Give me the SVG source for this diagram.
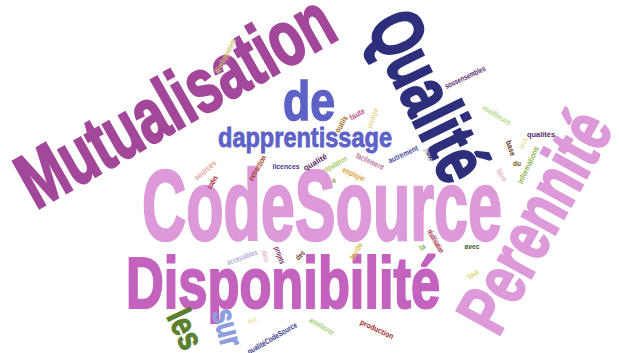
<svg xmlns="http://www.w3.org/2000/svg" width="619" height="353" viewBox="0 0 619 353">
<style>
text{font-family:"Liberation Sans","DejaVu Sans",sans-serif;font-weight:bold;}
.s{font-size:8px;text-anchor:middle;}
</style>
<rect width="619" height="353" fill="#ffffff"/>
<g id="big-words">
<g id="w-mutualisation"><text transform="translate(36,210) rotate(-29.5)" font-size="78" fill="#a3479a" stroke="#a3479a" stroke-width="2.5" textLength="350" lengthAdjust="spacingAndGlyphs">Mutualisation</text></g>
<g id="w-codesource"><text x="142" y="240" font-size="100" fill="#dd99d9" stroke="#dd99d9" stroke-width="2.5" textLength="360" lengthAdjust="spacingAndGlyphs">CodeSource</text></g>
<g id="w-disponibilite"><text x="126" y="308" font-size="72" fill="#c462bf" stroke="#c462bf" stroke-width="2.2" textLength="314" lengthAdjust="spacingAndGlyphs">Disponibilité</text></g>
<g id="w-qualite"><text transform="translate(366,26) rotate(64)" font-size="74" fill="#2e2f7c" stroke="#2e2f7c" stroke-width="2.2" textLength="180" lengthAdjust="spacingAndGlyphs">Qualité</text></g>
<g id="w-perennite"><text transform="translate(498,338) rotate(-61)" font-size="72" fill="#dd99d9" stroke="#dd99d9" stroke-width="2.2" textLength="240" lengthAdjust="spacingAndGlyphs">Perennité</text></g>
<g id="w-de"><text x="283" y="120" font-size="56" fill="#5d62c6" stroke="#5d62c6" stroke-width="1.5" textLength="52" lengthAdjust="spacingAndGlyphs">de</text></g>
<g id="w-dapprentissage"><text x="218" y="147" font-size="28" fill="#5d62c6" stroke="#5d62c6" stroke-width="0.8" textLength="174" lengthAdjust="spacingAndGlyphs">dapprentissage</text></g>
<g id="w-les"><text transform="translate(166,316) rotate(65)" font-size="35" fill="#5a7f2e" stroke="#5a7f2e" stroke-width="1" textLength="40" lengthAdjust="spacingAndGlyphs">les</text></g>
<g id="w-sur"><text transform="translate(212,312) rotate(75)" font-size="33" fill="#8c9fdc" stroke="#8c9fdc" stroke-width="1" textLength="38" lengthAdjust="spacingAndGlyphs">sur</text></g>
</g>
<g id="small-words">
<text class="s" transform="translate(225,56) rotate(-62)" dy="3" fill="#d2c070" textLength="38" lengthAdjust="spacingAndGlyphs">développement</text>
<text class="s" transform="translate(357,114) rotate(-30)" dy="3" fill="#c0508a" textLength="16" lengthAdjust="spacingAndGlyphs">faute</text>
<text class="s" transform="translate(341,124) rotate(-60)" dy="3" fill="#a06a20" textLength="18" lengthAdjust="spacingAndGlyphs">outils</text>
<text class="s" transform="translate(372,118) rotate(-70)" dy="3" fill="#e8d898" textLength="22" lengthAdjust="spacingAndGlyphs">usage</text>
<text class="s" transform="translate(465,77) rotate(-25)" dy="3" fill="#5a2a6a" textLength="44" lengthAdjust="spacingAndGlyphs">sousensembles</text>
<text class="s" transform="translate(497,115) rotate(30)" dy="3" fill="#b8d890" textLength="32" lengthAdjust="spacingAndGlyphs">meilleure</text>
<text class="s" transform="translate(541,134)" dy="3" fill="#5a2a6a" textLength="28" lengthAdjust="spacingAndGlyphs">qualités</text>
<text class="s" transform="translate(511,148) rotate(70)" dy="3" fill="#6a3a2a" textLength="16" lengthAdjust="spacingAndGlyphs">base</text>
<text class="s" transform="translate(517,163)" dy="3" fill="#6a5a20" textLength="8" lengthAdjust="spacingAndGlyphs">du</text>
<text class="s" transform="translate(528,165) rotate(-65)" dy="3" fill="#8ab050" textLength="40" lengthAdjust="spacingAndGlyphs">informations</text>
<text class="s" transform="translate(523,143) rotate(-65)" dy="3" fill="#e8e0a0" textLength="12" lengthAdjust="spacingAndGlyphs">tous</text>
<text class="s" transform="translate(502,175) rotate(60)" dy="3" fill="#e8b8c8" textLength="14" lengthAdjust="spacingAndGlyphs">faire</text>
<text class="s" transform="translate(472,246)" dy="3" fill="#3a5a2a" textLength="15" lengthAdjust="spacingAndGlyphs">avec</text>
<text class="s" transform="translate(473,274) rotate(-30)" dy="3" fill="#e0d070" textLength="12" lengthAdjust="spacingAndGlyphs">tout</text>
<text class="s" transform="translate(436,241) rotate(60)" dy="3" fill="#a02040" textLength="26" lengthAdjust="spacingAndGlyphs">réutilisation</text>
<text class="s" transform="translate(422,247) rotate(-30)" dy="3" fill="#8ab060" textLength="6" lengthAdjust="spacingAndGlyphs">la</text>
<text class="s" transform="translate(242,257) rotate(-20)" dy="3" fill="#b0a8d8" textLength="32" lengthAdjust="spacingAndGlyphs">accessibles</text>
<text class="s" transform="translate(266,256) rotate(75)" dy="3" fill="#e8b8d0" textLength="12" lengthAdjust="spacingAndGlyphs">dans</text>
<text class="s" transform="translate(280,255) rotate(70)" dy="3" fill="#7a2a6a" textLength="18" lengthAdjust="spacingAndGlyphs">projets</text>
<text class="s" transform="translate(300,255) rotate(-45)" dy="3" fill="#6a3a1a" textLength="10" lengthAdjust="spacingAndGlyphs">des</text>
<text class="s" transform="translate(356,251) rotate(-60)" dy="3" fill="#d8c050" textLength="18" lengthAdjust="spacingAndGlyphs">facile</text>
<text class="s" transform="translate(272,338) rotate(-30)" dy="3" fill="#3a3a8a" textLength="56" lengthAdjust="spacingAndGlyphs">qualitéCodeSource</text>
<text class="s" transform="translate(252,320) rotate(-20)" dy="3" fill="#e8e0a0" textLength="9" lengthAdjust="spacingAndGlyphs">est</text>
<text class="s" transform="translate(322,326) rotate(30)" dy="3" fill="#a8d080" textLength="28" lengthAdjust="spacingAndGlyphs">améliorer</text>
<text class="s" transform="translate(377,329) rotate(25)" dy="3" fill="#a03030" textLength="36" lengthAdjust="spacingAndGlyphs">production</text>
<text class="s" transform="translate(205,170) rotate(-40)" dy="3" fill="#e8a090" textLength="26" lengthAdjust="spacingAndGlyphs">sources</text>
<text class="s" transform="translate(212,182) rotate(-60)" dy="3" fill="#a02040" textLength="14" lengthAdjust="spacingAndGlyphs">codes</text>
<text class="s" transform="translate(257,168) rotate(-60)" dy="3" fill="#a03828" textLength="28" lengthAdjust="spacingAndGlyphs">extraction</text>
<text class="s" transform="translate(286,166)" dy="3" fill="#3a3a8a" textLength="27" lengthAdjust="spacingAndGlyphs">licences</text>
<text class="s" transform="translate(315,162) rotate(-30)" dy="3" fill="#5a2a6a" textLength="26" lengthAdjust="spacingAndGlyphs">qualité</text>
<text class="s" transform="translate(335,164) rotate(-30)" dy="3" fill="#a8c860" textLength="26" lengthAdjust="spacingAndGlyphs">réputation</text>
<text class="s" transform="translate(334,180)" dy="3" fill="#a8a060" textLength="4" lengthAdjust="spacingAndGlyphs">à</text>
<text class="s" transform="translate(354,174) rotate(25)" dy="3" fill="#d8a030" textLength="24" lengthAdjust="spacingAndGlyphs">employer</text>
<text class="s" transform="translate(370,161) rotate(25)" dy="3" fill="#c070a0" textLength="30" lengthAdjust="spacingAndGlyphs">facilement</text>
<text class="s" transform="translate(403,154) rotate(-25)" dy="3" fill="#4a4aa0" textLength="32" lengthAdjust="spacingAndGlyphs">autrement</text>
<text class="s" transform="translate(429,155) rotate(70)" dy="3" fill="#c0c0c8" textLength="14" lengthAdjust="spacingAndGlyphs">pour</text>
</g>
</svg>
